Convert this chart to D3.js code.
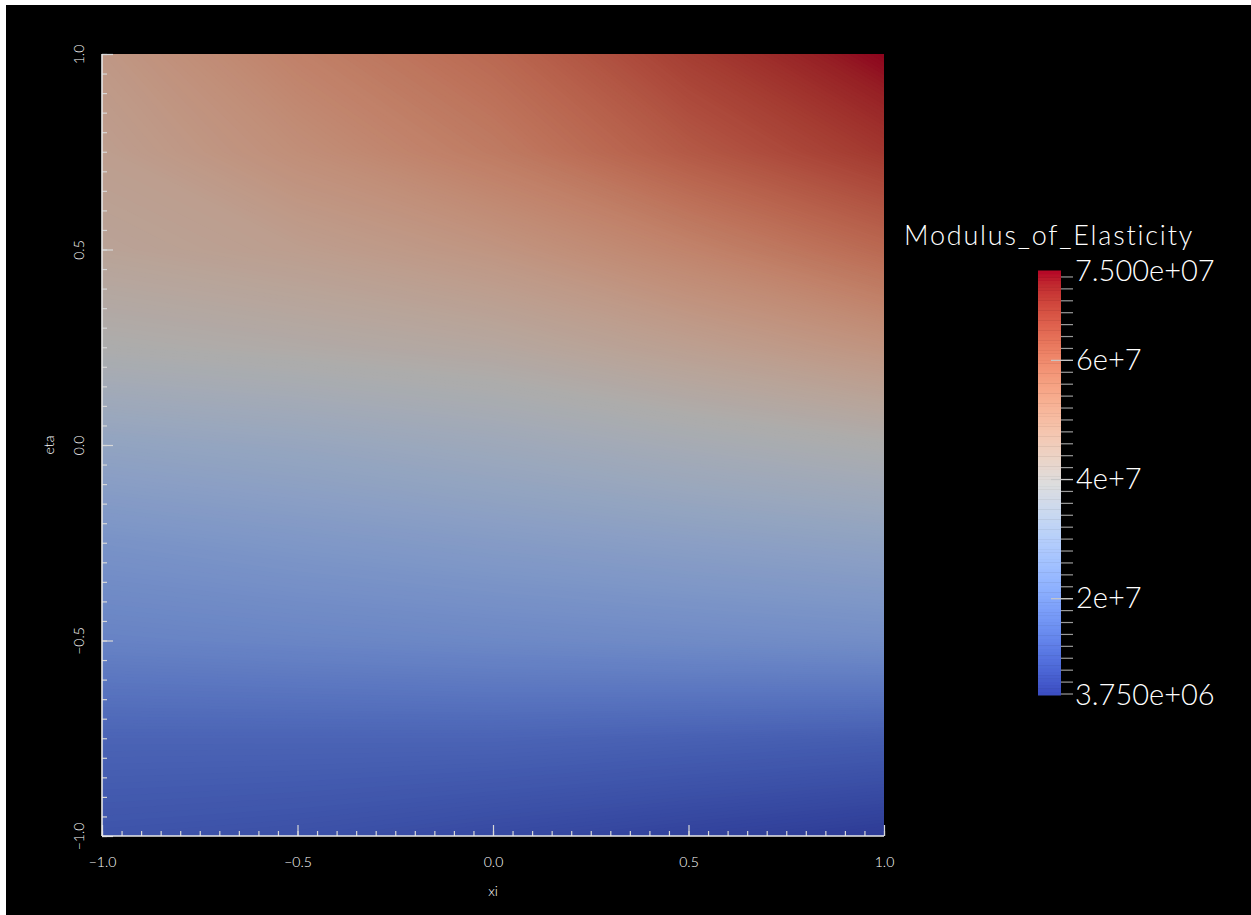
<!DOCTYPE html>
<html>
<head>
<meta charset="utf-8">
<script src="https://cdn.jsdelivr.net/npm/d3@7"></script>
<style>
body { margin: 0; background: #fff; }
svg { display: block; }
text { font-family: Lato, "Liberation Sans", sans-serif; font-weight: 300; fill: #fff; }
</style>
</head>
<body>
<div id="chart"></div>
<script>
var width = 1251;
var height = 915;

// nodes of the sampled field (rows go from eta = 1 down to eta = -1)
var xiNodes = [-1, -0.5, 0, 0.5, 1];
var etaNodes = [1, 0.75, 0.5, 0.25, 0, -0.25, -0.5, -0.75, -1];

// Modulus_of_Elasticity, in units of 1e6
var modulus = [
    [48.6, 55.1, 60.5, 68.5, 75.0],
    [46.5, 51.5, 56.5, 63.5, 69.5],
    [44.5, 46.5, 49.5, 54.5, 60.5],
    [39.4, 40.8, 42.5, 46.0, 50.0],
    [31.0, 32.5, 34.5, 37.0, 39.4],
    [24.5, 26.0, 27.5, 29.0, 30.5],
    [19.8, 20.6, 21.4, 22.2, 23.0],
    [12.3, 12.3, 12.3, 11.6, 10.9],
    [8.7, 8.0, 6.6, 5.2, 3.75]
];

var xTicks = [-1, -0.5, 0, 0.5, 1];
var yTicks = [-1, -0.5, 0, 0.5, 1];
var barRange = [3.75e6, 7.5e7];
var barEndLabels = ["3.750e+06", "7.500e+07"];
var barMajor = [2e7, 4e7, 6e7];
var barMajorLabels = ["2e+7", "4e+7", "6e+7"];

// ParaView "Cool to Warm"
var coolWarm = ["#3b4cc0", "#445acc", "#4d68d7", "#5775e1", "#6282ea", "#6c8ef1", "#779af7", "#82a5fb",
    "#8db0fe", "#98b9ff", "#a3c2ff", "#aec9fd", "#b8d0f9", "#c2d5f4", "#ccd9ee", "#d5dbe6",
    "#dddddd", "#e5d8d1", "#ecd3c5", "#f1ccb9", "#f5c4ad", "#f7bba0", "#f7b194", "#f7a687",
    "#f49a7b", "#f18d6f", "#ec7f63", "#e57058", "#de604d", "#d55042", "#cb3e38", "#c0282f", "#b40426"];

var svg = d3.select("#chart")
    .append("svg")
    .attr("width", width)
    .attr("height", height);

svg.append("rect")
    .attr("x", 6)
    .attr("y", 5)
    .attr("width", width - 6)
    .attr("height", height - 5)
    .attr("fill", "#000");

var plot = {left: 102, top: 54, right: 884, bottom: 836};

var x = d3.scaleLinear().domain([-1, 1]).range([plot.left, plot.right]);
var y = d3.scaleLinear().domain([-1, 1]).range([plot.bottom, plot.top]);

var tScale = d3.scaleLinear().domain(barRange);
var cmap = d3.scaleLinear()
    .domain(coolWarm.map(function(c, i) { return i / (coolWarm.length - 1); }))
    .range(coolWarm)
    .interpolate(d3.interpolateRgb);

function color(v) { return cmap(tScale(v)); }

// the surface is lit, so it comes out a bit darker than the bar
function shaded(v) {
    var c = d3.rgb(color(v));
    return d3.rgb(c.r * 0.78, c.g * 0.78, c.b * 0.78);
}

//Field
var nx = xiNodes.length;
var ny = etaNodes.length;
var values = [];
modulus.forEach(function(row) {
    row.forEach(function(v) { values.push(v * 1e6); });
});

var step = (barRange[1] - barRange[0]) / 300;
var thresholds = d3.range(barRange[0], barRange[1], step);

var contours = d3.contours()
    .size([nx, ny])
    .thresholds(thresholds)(values);

var gridX = d3.scaleLinear().domain([0.5, nx - 0.5]).range([xiNodes[0], xiNodes[nx - 1]]);
var gridY = d3.scaleLinear().domain([0.5, ny - 0.5]).range([etaNodes[0], etaNodes[ny - 1]]);

var path = d3.geoPath(d3.geoTransform({
    point: function(px, py) {
        this.stream.point(x(gridX(px)), y(gridY(py)));
    }
}));

svg.append("clipPath")
    .attr("id", "plotClip")
    .append("rect")
    .attr("x", plot.left)
    .attr("y", plot.top)
    .attr("width", plot.right - plot.left)
    .attr("height", plot.bottom - plot.top);

svg.append("g")
    .attr("clip-path", "url(#plotClip)")
    .selectAll("path")
    .data(contours)
    .enter()
    .append("path")
    .attr("d", path)
    .attr("fill", function(d) { return shaded(d.value + step / 2); });

//Axes
var xMinor = d3.axisBottom(x).tickValues(d3.range(-20, 21).map(function(i) { return i / 20; }))
    .tickSize(-5).tickFormat("");
var xMajor = d3.axisBottom(x).tickValues(xTicks).tickSize(-11).tickPadding(21)
    .tickFormat(d3.format(".1f"));
var yMinor = d3.axisLeft(y).tickValues(d3.range(-20, 21).map(function(i) { return i / 20; }))
    .tickSize(-5).tickFormat("");
var yMajor = d3.axisLeft(y).tickValues(yTicks).tickSize(-11).tickFormat(d3.format(".1f"));

function styleAxis(g) {
    g.select(".domain").remove();
    g.selectAll("line").attr("stroke", "#d8d8d8").attr("stroke-width", 1.2);
    g.selectAll("text").attr("fill", "#fff").attr("font-size", 14)
        .attr("font-family", "Lato, 'Liberation Sans', sans-serif");
}

svg.append("g").attr("transform", "translate(0," + plot.bottom + ")").call(xMinor).call(styleAxis);
svg.append("g").attr("transform", "translate(0," + plot.bottom + ")").call(xMajor).call(styleAxis);
svg.append("g").attr("transform", "translate(" + plot.left + ",0)").call(yMinor).call(styleAxis);
var gy = svg.append("g").attr("transform", "translate(" + plot.left + ",0)").call(yMajor).call(styleAxis);
gy.selectAll("text")
    .attr("x", null)
    .attr("dy", null)
    .attr("text-anchor", "middle")
    .attr("transform", "translate(-18,0) rotate(-90)");

//Axis lines
svg.append("line")
    .attr("x1", plot.left).attr("y1", plot.top)
    .attr("x2", plot.left).attr("y2", plot.bottom)
    .attr("stroke", "#e8e8e8").attr("stroke-width", 1.6);
svg.append("line")
    .attr("x1", plot.left).attr("y1", plot.bottom)
    .attr("x2", plot.right).attr("y2", plot.bottom)
    .attr("stroke", "#e8e8e8").attr("stroke-width", 1.6);

//Axis titles
svg.append("text")
    .attr("x", (plot.left + plot.right) / 2)
    .attr("y", 896)
    .attr("text-anchor", "middle")
    .attr("font-size", 14)
    .text("xi");

svg.append("text")
    .attr("transform", "translate(54," + ((plot.top + plot.bottom) / 2) + ") rotate(-90)")
    .attr("text-anchor", "middle")
    .attr("font-size", 14)
    .text("eta");

//Colorbar
var bar = {x: 1038, w: 23};
var yBar = d3.scaleLinear().domain(barRange).range([695, 270.5]);
var nBands = 128;
var bandStep = (barRange[1] - barRange[0]) / nBands;

svg.append("g")
    .selectAll("rect")
    .data(d3.range(nBands))
    .enter()
    .append("rect")
    .attr("x", bar.x)
    .attr("width", bar.w)
    .attr("y", function(i) { return yBar(barRange[0] + (i + 1) * bandStep); })
    .attr("height", function(i) { return yBar(barRange[0] + i * bandStep) - yBar(barRange[0] + (i + 1) * bandStep) + 0.5; })
    .attr("fill", function(i) { return color(barRange[0] + (i + 0.5) * bandStep); });

var barMinor = d3.axisRight(yBar).tickValues(d3.range(4e6, 7.5e7, 2e6)).tickSize(12).tickFormat("");
var gbm = svg.append("g").attr("transform", "translate(" + (bar.x + bar.w) + ",0)").call(barMinor);
gbm.select(".domain").remove();
gbm.selectAll("line").attr("stroke", "#9a9a9a").attr("stroke-width", 1.2);

var barAxis = d3.axisRight(yBar).tickValues(barMajor).tickSize(22).tickPadding(3)
    .tickFormat(function(d, i) { return barMajorLabels[i]; });
var gba = svg.append("g").attr("transform", "translate(" + (bar.x + bar.w - 10) + ",0)").call(barAxis);
gba.select(".domain").remove();
gba.selectAll("line").attr("stroke", "#c8c8c8").attr("stroke-width", 1.2);
gba.selectAll("text").attr("fill", "#fff").attr("font-size", 29)
    .attr("font-family", "Lato, 'Liberation Sans', sans-serif");

svg.append("g")
    .selectAll("text")
    .data(barRange)
    .enter()
    .append("text")
    .attr("x", 1075)
    .attr("y", function(d) { return yBar(d); })
    .attr("dy", "0.36em")
    .attr("font-size", 29)
    .text(function(d, i) { return barEndLabels[i]; });

svg.append("text")
    .attr("x", 904)
    .attr("y", 245)
    .attr("font-size", 27)
    .attr("letter-spacing", 1.8)
    .text("Modulus_of_Elasticity");
</script>
</body>
</html>
